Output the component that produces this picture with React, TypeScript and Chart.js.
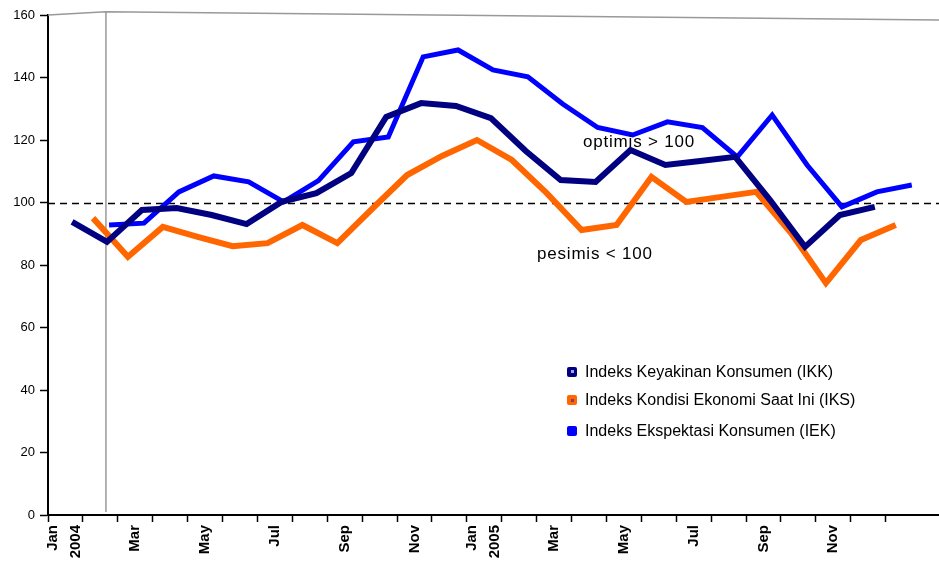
import React, { useEffect, useRef } from 'react';
import { Chart, registerables } from 'chart.js';

Chart.register(...registerables);

// ---- data ----
const months: (string | string[])[] = [
  ['Jan', '2004'], '', 'Mar', '', 'May', '', 'Jul', '', 'Sep', '', 'Nov', '',
  ['Jan', '2005'], '', 'Mar', '', 'May', '', 'Jul', '', 'Sep', '', 'Nov', '',
];
const ikk = [93.8, 87.4, 97.6, 98.2, 96, 93.1, 100.2, 103, 109.4, 127.4, 131.8, 130.9, 127, 116.5, 107.2, 106.6, 116.8, 112, 113.3, 114.6, 100.8, 85.8, 96, 98.6];
const iks = [95, 82.6, 92.2, 89, 86, 87, 92.8, 87, 98, 108.8, 114.9, 120, 113.6, 103, 91.2, 92.8, 108.2, 100.2, 101.8, 103.4, 90.2, 74.2, 88, 92.8];
const iek = [92.8, 93.4, 103.4, 108.5, 106.6, 100.2, 107, 119.4, 121, 146.6, 148.8, 142.4, 140.2, 131.5, 124, 121.6, 125.8, 124, 114.6, 128, 112, 98.6, 103.4, 105.6];
const seriesNames = [
  'Indeks Keyakinan Konsumen (IKK)',
  'Indeks Kondisi Ekonomi Saat Ini (IKS)',
  'Indeks Ekspektasi Konsumen (IEK)',
];
const yMin = 0;
const yMax = 160;
const yStep = 20;
const threshold = 100;
const labelOptimis = 'optimis > 100';
const labelPesimis = 'pesimis < 100';

// ---- style ----
const FONT = '"Liberation Sans", Arial, sans-serif';
const COLORS = ['#000080', '#ff6600', '#0000ff'];
const WIDTHS = [6, 6, 5];
const DEPTH = [0.19, 0.79, 1.25]; // 3D depth shift of each series (in months)
const X_MAX = 25.53;
const WALL_X = 1.66;

const toPoints = (vals: number[], depth: number) =>
  vals.map((v, i) => ({ x: i + 0.5 + depth, y: v }));

const wallPlugin = {
  id: 'wall',
  beforeDatasetsDraw(chart: any) {
    const { ctx, chartArea, scales } = chart;
    const x = scales.x;
    const y = scales.y;
    ctx.save();
    ctx.strokeStyle = '#999';
    ctx.lineWidth = 1.5;
    ctx.beginPath();
    ctx.moveTo(chartArea.left, y.getPixelForValue(yMax));
    ctx.lineTo(x.getPixelForValue(WALL_X), y.getPixelForValue(yMax + 1));
    ctx.lineTo(chartArea.right, y.getPixelForValue(yMax - 1.6));
    ctx.stroke();
    ctx.beginPath();
    ctx.moveTo(x.getPixelForValue(WALL_X), y.getPixelForValue(yMax + 1));
    ctx.lineTo(x.getPixelForValue(WALL_X), y.getPixelForValue(yMin + 1));
    ctx.stroke();
    // threshold dashed line
    ctx.strokeStyle = '#000';
    ctx.lineWidth = 1.5;
    ctx.setLineDash([7, 5]);
    ctx.beginPath();
    const ty = Math.round(y.getPixelForValue(threshold)) + 0.5;
    ctx.moveTo(chartArea.left, ty);
    ctx.lineTo(chartArea.right, ty);
    ctx.stroke();
    ctx.restore();
  },
};

export default function App() {
  const canvasRef = useRef<HTMLCanvasElement | null>(null);

  useEffect(() => {
    document.body.style.margin = '0';
    const canvas = canvasRef.current;
    if (!canvas) return;
    const data = [ikk, iks, iek];
    const chart = new Chart(canvas, {
      type: 'line',
      data: {
        datasets: data.map((vals, k) => ({
          label: seriesNames[k],
          data: toPoints(vals, DEPTH[k]),
          borderColor: COLORS[k],
          backgroundColor: COLORS[k],
          borderWidth: WIDTHS[k],
          pointRadius: 0,
          tension: 0,
          fill: false,
        })),
      },
      options: {
        responsive: false,
        animation: false,
        devicePixelRatio: 1,
        layout: { padding: { top: 15, left: 0, right: 0, bottom: 0 } },
        plugins: { legend: { display: false }, tooltip: { enabled: false } },
        scales: {
          x: {
            type: 'linear',
            min: 0,
            max: X_MAX,
            afterBuildTicks: (s: any) => {
              const t: { value: number }[] = [];
              for (let i = 0; i <= months.length; i++) t.push({ value: i });
              months.forEach((m, i) => {
                if (m && m.length) t.push({ value: i + (Array.isArray(m) ? 0.14 : 0.5) });
              });
              t.sort((a, b) => a.value - b.value);
              s.ticks = t;
            },
            afterFit: (s: any) => {
              s.height = 47;
            },
            grid: {
              drawOnChartArea: false,
              drawTicks: true,
              tickLength: 7,
              tickWidth: 1.5,
              tickColor: (c: any) =>
                c.tick && Number.isInteger(c.tick.value) ? '#000' : 'rgba(0,0,0,0)',
            },
            border: { color: '#000', width: 2 },
            ticks: {
              autoSkip: false,
              minRotation: 90,
              maxRotation: 90,
              padding: 3,
              color: '#000',
              font: { family: FONT, size: 15, weight: 'bold', lineHeight: 1.55 },
              callback: (v: any) => {
                const n = Number(v);
                if (Number.isInteger(n)) return '';
                return months[Math.floor(n)] as any;
              },
            },
          },
          y: {
            min: yMin,
            max: yMax,
            afterFit: (s: any) => {
              s.width = 48;
            },
            grid: {
              drawOnChartArea: false,
              tickLength: 8,
              tickWidth: 1.5,
              tickColor: '#000',
            },
            border: { color: '#000', width: 2 },
            ticks: {
              stepSize: yStep,
              padding: 5,
              color: '#000',
              font: { family: FONT, size: 13 },
            },
          },
        },
      },
      plugins: [wallPlugin],
    });
    return () => chart.destroy();
  }, []);

  const markerBase: React.CSSProperties = {
    position: 'absolute',
    left: 567,
    width: 10,
    height: 10,
    borderRadius: 2,
  };
  const textStyle: React.CSSProperties = {
    position: 'absolute',
    left: 585,
    fontFamily: FONT,
    fontSize: 16,
    lineHeight: '16px',
    color: '#000',
    whiteSpace: 'nowrap',
  };
  const rows = [371.5, 400, 430.5];
  const dots = ['#a0a0ff', '#993366', null];

  return (
    <div style={{ position: 'relative', width: 939, height: 562, background: '#fff' }}>
      <canvas ref={canvasRef} width={939} height={562} style={{ display: 'block' }} />
      <div
        style={{
          position: 'absolute', left: 583, top: 132.7, fontFamily: FONT, fontSize: 17,
          lineHeight: '17px', letterSpacing: '0.8px', color: '#000', whiteSpace: 'nowrap',
        }}
      >
        {labelOptimis}
      </div>
      <div
        style={{
          position: 'absolute', left: 537, top: 244.7, fontFamily: FONT, fontSize: 17,
          lineHeight: '17px', letterSpacing: '0.8px', color: '#000', whiteSpace: 'nowrap',
        }}
      >
        {labelPesimis}
      </div>
      {seriesNames.map((name, k) => (
        <React.Fragment key={name}>
          <div style={{ ...markerBase, top: rows[k] - 5, background: COLORS[k] }}>
            {dots[k] && (
              <div
                style={{
                  position: 'absolute', left: 3.5, top: 3.5, width: 3, height: 3,
                  background: dots[k] as string,
                }}
              />
            )}
          </div>
          <div style={{ ...textStyle, top: rows[k] - 7.8 }}>{name}</div>
        </React.Fragment>
      ))}
    </div>
  );
}
